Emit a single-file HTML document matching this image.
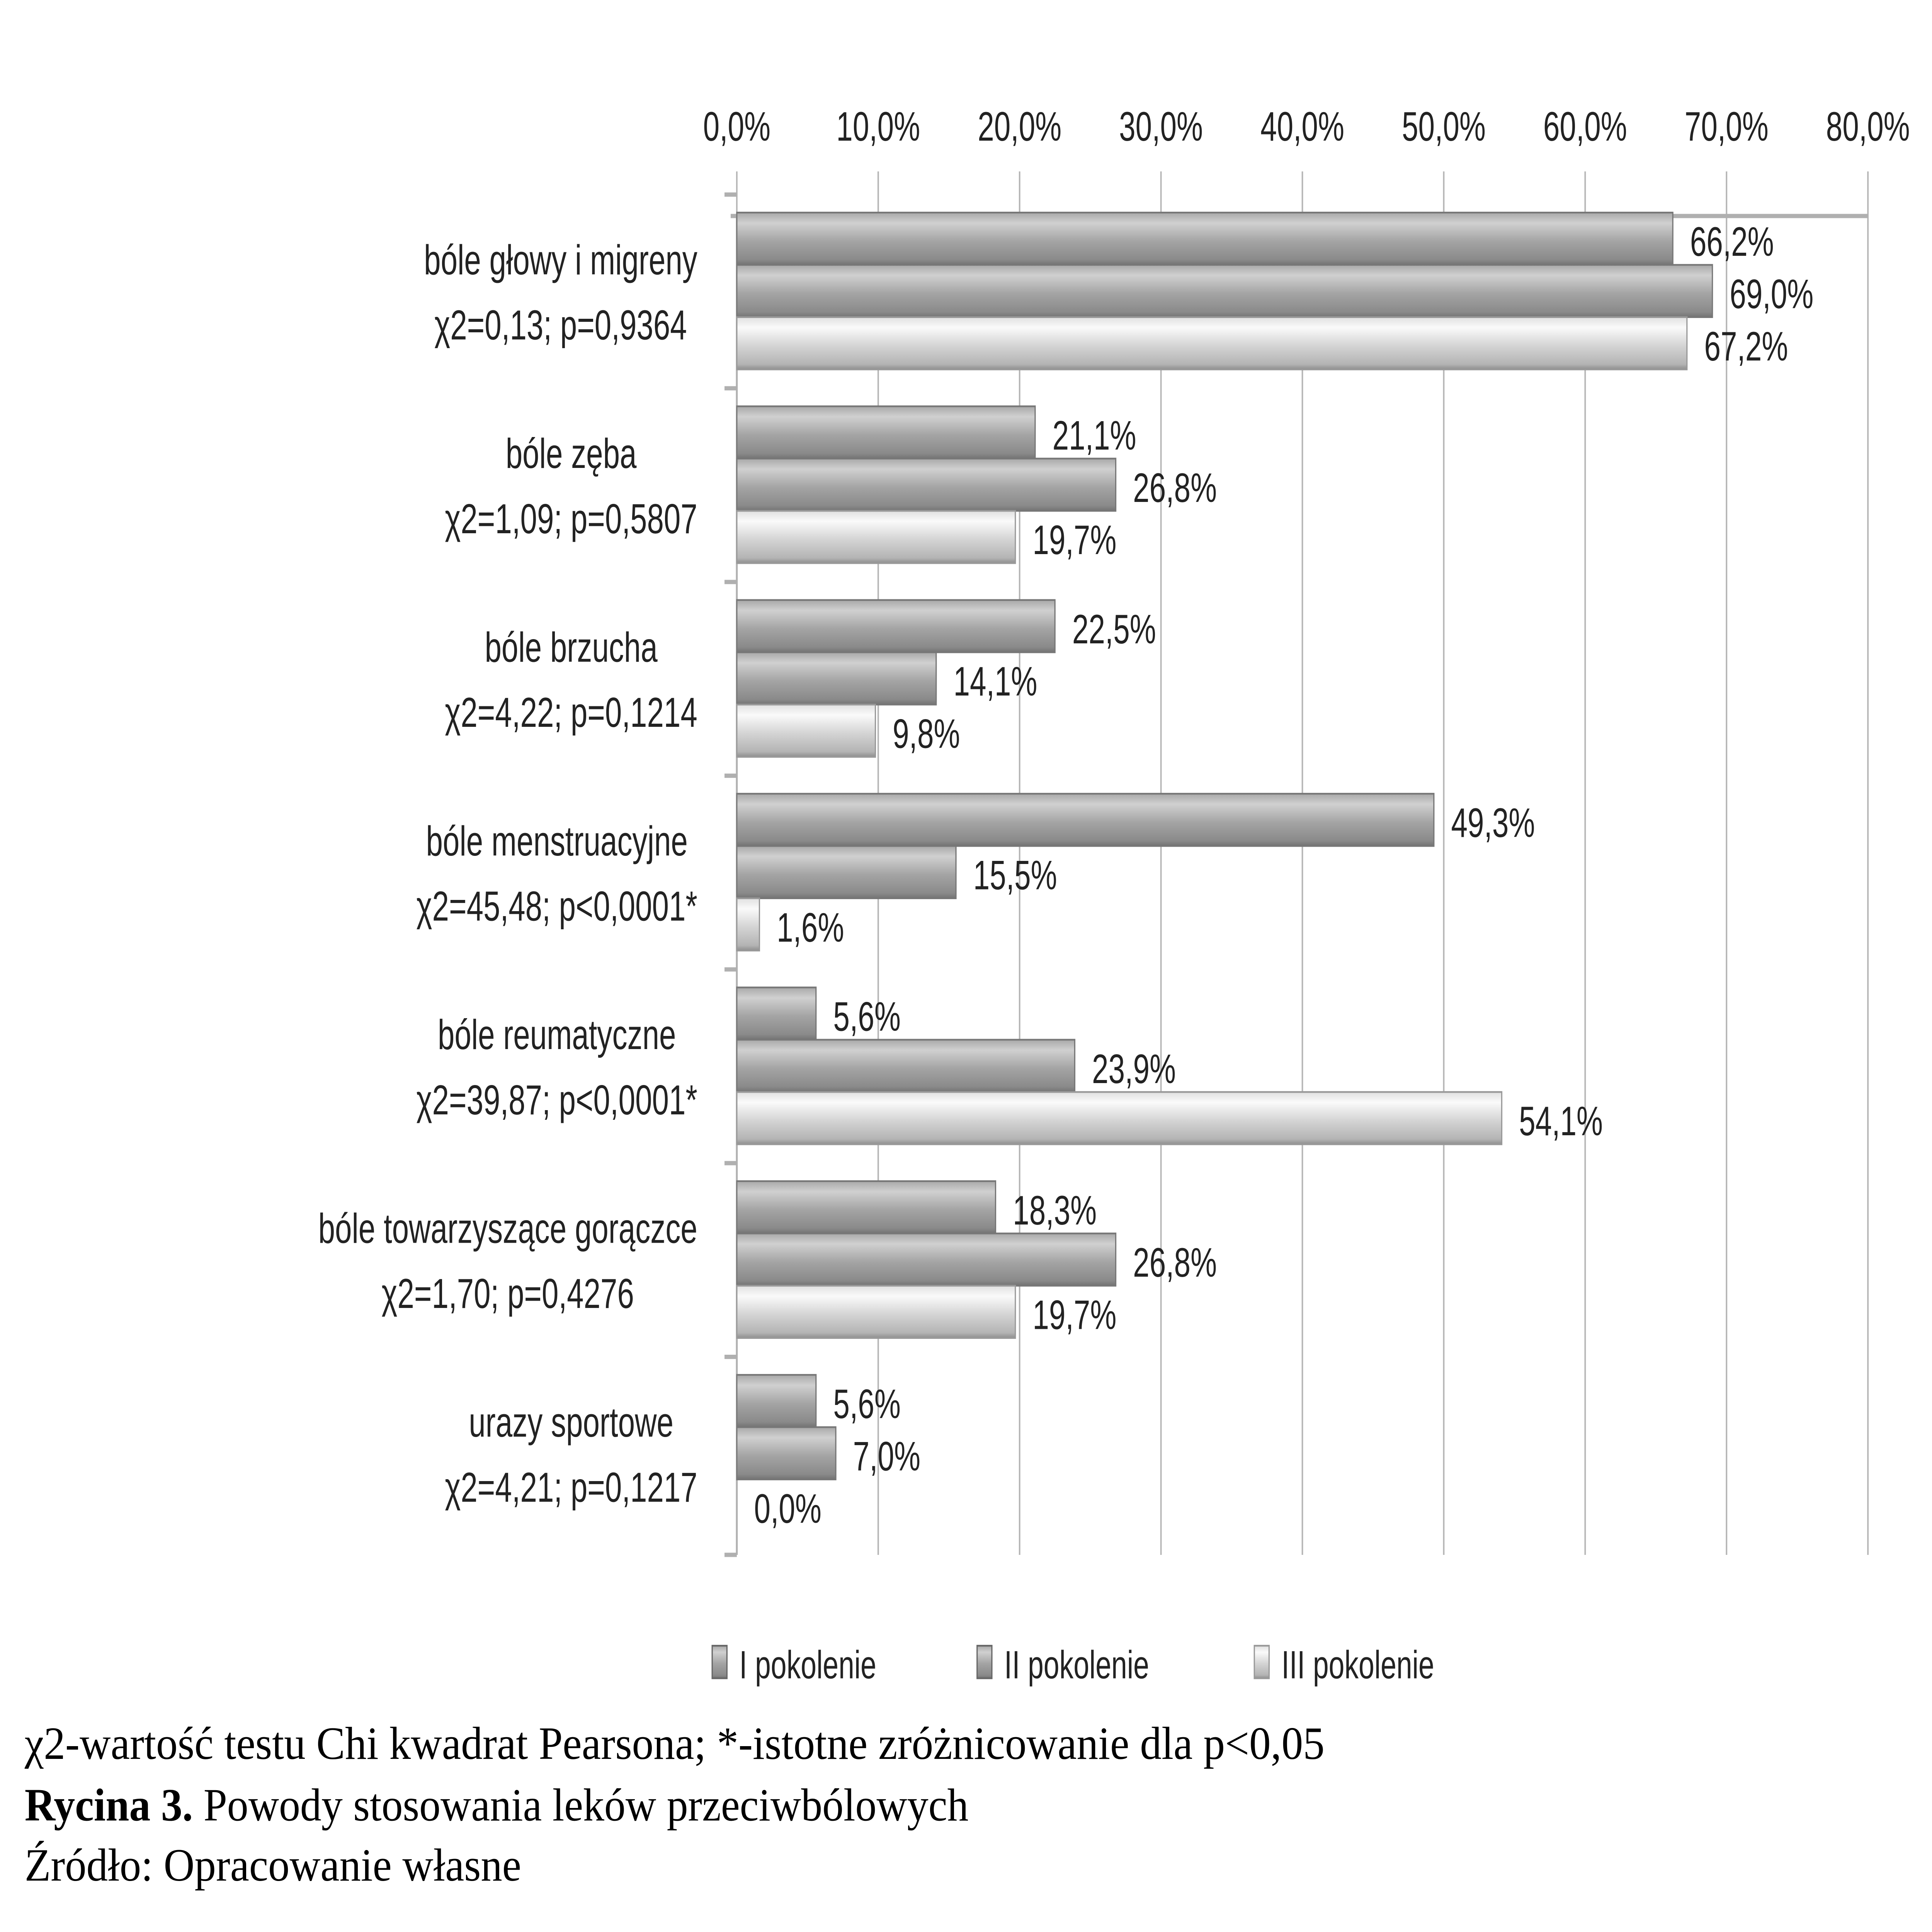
<!DOCTYPE html>
<html><head><meta charset="utf-8">
<style>
html,body{margin:0;padding:0;background:#fff;width:100%;height:100%;overflow:hidden;}
#chart{position:fixed;left:0;top:0;width:100vw;height:100vh;display:block;}
</style></head>
<body>
<svg id="chart" viewBox="0 0 1568 1127" preserveAspectRatio="none" xmlns="http://www.w3.org/2000/svg">
<defs>
<linearGradient id="gDark" x1="0" y1="0" x2="0" y2="1">
<stop offset="0" stop-color="#a8a8a8"/><stop offset="0.2" stop-color="#d0d0d0"/><stop offset="0.55" stop-color="#a4a4a4"/><stop offset="0.9" stop-color="#8a8a8a"/><stop offset="1" stop-color="#737373"/>
</linearGradient>
<linearGradient id="gLight" x1="0" y1="0" x2="0" y2="1">
<stop offset="0" stop-color="#e0e0e0"/><stop offset="0.2" stop-color="#fafafa"/><stop offset="0.55" stop-color="#d4d4d4"/><stop offset="0.9" stop-color="#b4b4b4"/><stop offset="1" stop-color="#8e8e8e"/>
</linearGradient>
</defs>
<g id="grid"></g>
<g id="bars"></g>
<g id="labels" font-family="Liberation Sans, sans-serif" fill="#222"></g>
<g id="legend" font-family="Liberation Sans, sans-serif" font-size="23" fill="#222"></g>
<g font-family="Liberation Serif, serif" font-size="27" fill="#000">
<text x="20" y="1026" textLength="1055" lengthAdjust="spacingAndGlyphs">χ2-wartość testu Chi kwadrat Pearsona; *-istotne zróżnicowanie dla p&lt;0,05</text>
<text x="20" y="1062" textLength="766" lengthAdjust="spacingAndGlyphs"><tspan font-weight="bold">Rycina 3.</tspan> Powody stosowania leków przeciwbólowych</text>
<text x="20" y="1097" textLength="403" lengthAdjust="spacingAndGlyphs">Źródło: Opracowanie własne</text>
</g>
</svg>
<script>
const categories = [
  ["bóle głowy i migreny","χ2=0,13; p=0,9364"],
  ["bóle zęba","χ2=1,09; p=0,5807"],
  ["bóle brzucha","χ2=4,22; p=0,1214"],
  ["bóle menstruacyjne","χ2=45,48; p<0,0001*"],
  ["bóle reumatyczne","χ2=39,87; p<0,0001*"],
  ["bóle towarzyszące gorączce","χ2=1,70; p=0,4276"],
  ["urazy sportowe","χ2=4,21; p=0,1217"]
];
const seriesI = [66.2,21.1,22.5,49.3,5.6,18.3,5.6];
const seriesII = [69.0,26.8,14.1,15.5,23.9,26.8,7.0];
const seriesIII = [67.2,19.7,9.8,1.6,54.1,19.7,0.0];
const seriesNames = ["I pokolenie","II pokolenie","III pokolenie"];
const xTicks = [0,10,20,30,40,50,60,70,80];

const NS="http://www.w3.org/2000/svg";
const X0=598, X1=1516, XMAX=80;
const xs=v=>X0+(v/XMAX)*(X1-X0);
const C0=170, PITCH=113, BH=30.5;
const yc=i=>C0+i*PITCH;
function mk(tag,attrs,parent){const e=document.createElementNS(NS,tag);for(const k in attrs)e.setAttribute(k,attrs[k]);parent.appendChild(e);return e;}
const grid=document.getElementById('grid'),bars=document.getElementById('bars'),labels=document.getElementById('labels'),legend=document.getElementById('legend');
const fmt=v=>v.toFixed(1).replace('.',',')+'%';

xTicks.forEach(t=>{
  const l=mk('line',{x1:xs(t),x2:xs(t),y1:100,y2:907,stroke:'#b5b5b5','stroke-width':1.2},grid);
  
  
  const tx=mk('text',{x:xs(t),y:82,'text-anchor':'middle','font-size':24},labels);
  tx.textContent=fmt(t);
  
  
});
const ax=mk('line',{x1:593,x2:X1,y1:126,y2:126,stroke:'#b0b0b0','stroke-width':2.5},grid);


const yax=mk('line',{x1:X0,x2:X0,y1:126,y2:907,stroke:'#b0b0b0','stroke-width':1.5},grid);


for(let i=0;i<=categories.length;i++){
  const y=i===categories.length?907:yc(i)-56.5;
  const tk=mk('line',{x1:588,x2:X0,y1:y,y2:y,stroke:'#b0b0b0','stroke-width':2.5},grid);
  
  
}

const all=[seriesI,seriesII,seriesIII];
categories.forEach((cat,i)=>{
  all.forEach((s,k)=>{
    const top=yc(i)-46+k*BH;
    const w=xs(s[i])-X0;
    if(w>0){
      const r=mk('rect',{x:X0,y:top,width:w,height:BH,fill:k<2?'url(#gDark)':'url(#gLight)',stroke:k<2?'#777':'#999','stroke-width':1},bars);
      
      
    }
    const t=mk('text',{x:xs(s[i])+14,y:top+BH/2+10,'font-size':24},labels);
    t.textContent=fmt(s[i]);
    
    
  });
  const g=mk('g',{},labels);
  
  
  const t1=mk('text',{'font-size':24.5,'text-anchor':'middle',y:yc(i)-10},g);t1.textContent=cat[0];
  const t2=mk('text',{'font-size':24.5,'text-anchor':'middle',y:yc(i)+28},g);t2.textContent=cat[1];
  const w=Math.max(t1.getComputedTextLength(),t2.getComputedTextLength());
  const cx=566-w/2;
  t1.setAttribute('x',cx);t2.setAttribute('x',cx);
});

const lx=[578,793,1018];
seriesNames.forEach((n,k)=>{
  const r=mk('rect',{x:lx[k],y:960,width:12,height:19,fill:k<2?'url(#gDark)':'url(#gLight)',stroke:k<2?'#666':'#999'},legend);
  
  
  const t=mk('text',{x:lx[k]+22,y:979},legend);
  t.textContent=n;
  
  
});
</script>
</body></html>
